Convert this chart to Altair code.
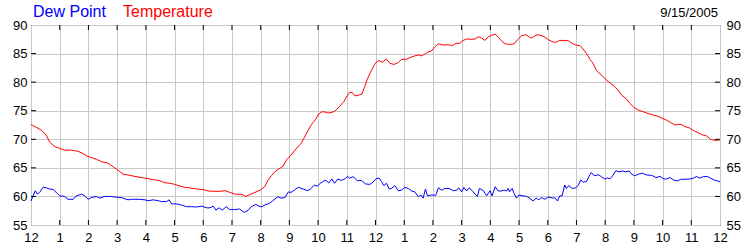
import altair as alt
import pandas as pd

# ---- data ----
temp_hours = [0, 0.36, 0.53, 0.65, 0.83, 1.0, 1.17, 1.41, 1.64, 1.81, 1.93, 2.1, 2.28, 2.45, 2.69, 2.86,
              3.03, 3.21, 3.38, 3.62, 3.85, 4.08, 4.31, 4.49, 4.66, 4.84, 5.01, 5.19, 5.36, 5.53, 5.77,
              6.0, 6.17, 6.41, 6.58, 6.76, 6.93, 7.1, 7.34, 7.49, 7.63, 7.8, 7.98, 8.14, 8.26, 8.37,
              8.49, 8.6, 8.78, 8.9, 9.06, 9.23, 9.41, 9.52, 9.64, 9.76, 9.9, 10.02, 10.13, 10.23, 10.34,
              10.48, 10.59, 10.74, 10.9, 11.01, 11.1, 11.19, 11.28, 11.4, 11.53, 11.62, 11.73, 11.85,
              11.97, 12.09, 12.24, 12.38, 12.5, 12.64, 12.79, 12.91, 13.08, 13.2, 13.37, 13.49, 13.6,
              13.72, 13.84, 13.95, 14.07, 14.19, 14.36, 14.53, 14.69, 14.8, 14.94, 15.03, 15.17, 15.35,
              15.47, 15.58, 15.7, 15.81, 15.93, 16.05, 16.17, 16.29, 16.41, 16.52, 16.67, 16.83, 16.94,
              17.08, 17.23, 17.34, 17.43, 17.55, 17.66, 17.8, 17.92, 18.03, 18.19, 18.3, 18.42, 18.57,
              18.71, 18.85, 18.97, 19.12, 19.23, 19.35, 19.47, 19.58, 19.7, 19.81, 19.93, 20.05, 20.19,
              20.34, 20.45, 20.57, 20.74, 20.86, 21.0, 21.15, 21.33, 21.5, 21.67, 21.85, 22.02, 22.16,
              22.31, 22.43, 22.55, 22.66, 22.78, 22.93, 23.07, 23.24, 23.4, 23.53, 23.67, 23.83, 24.0]
temp_values = [72.6, 71.6, 70.75, 69.5, 68.7, 68.4, 68.1, 68.1, 67.9, 67.5, 67.1, 66.8, 66.5, 66.1, 65.8, 65.2,
               64.6, 63.9, 63.75, 63.5, 63.3, 63.1, 62.9, 62.75, 62.4, 62.3, 62.1, 61.8, 61.6, 61.5, 61.3,
               61.2, 60.95, 60.9, 60.9, 61.0, 60.7, 60.4, 60.35, 60.0, 60.35, 60.7, 61.1, 61.7, 62.9, 63.6,
               64.3, 64.7, 65.3, 66.4, 67.25, 68.3, 69.3, 70.3, 71.45, 72.5, 73.4, 74.4, 74.8, 74.8, 74.6,
               74.7, 74.95, 75.7, 76.6, 77.6, 78.2, 78.2, 77.6, 77.7, 77.9, 79.2, 80.7, 82.0,
               83.1, 83.8, 83.5, 84.05, 83.3, 83.1, 83.4, 84.0, 84.0, 84.3, 84.6, 84.75, 84.6,
               84.9, 85.3, 85.45, 86.2, 86.7, 86.5, 86.55, 86.4, 86.8, 86.8, 87.25, 87.55, 87.5,
               87.55, 87.95, 87.7, 87.3, 87.95, 88.2, 88.4, 87.8, 87.1, 86.7, 86.6, 86.7, 87.4,
               88.1, 88.3, 87.95, 87.7, 88.1, 88.3, 88.1, 87.8, 87.4, 87.0, 87.0, 87.3, 87.3,
               87.25, 86.8, 86.5, 86.4, 85.8, 85.0, 84.0, 83.3, 82.0, 81.5, 80.95, 80.3, 79.8,
               79.2, 78.6, 77.75, 77.05, 76.3, 75.6, 75.1, 74.8, 74.5, 74.25, 74.0, 73.6, 73.3,
               72.85, 72.5, 72.6, 72.6, 72.2, 72.0, 71.55, 71.15, 70.75, 70.6, 70.0, 69.8, 69.9]

dew_hours = [0, 0.07, 0.15, 0.22, 0.30, 0.42, 0.53, 0.65, 0.77, 0.88, 1.0, 1.17, 1.29, 1.47, 1.58, 1.76, 1.87,
             1.99, 2.1, 2.28, 2.4, 2.57, 2.74, 2.92, 3.15, 3.38, 3.5, 3.79, 3.97, 4.08, 4.26, 4.43, 4.55,
             4.72, 4.81, 4.9, 5.07, 5.24, 5.42, 5.59, 5.77, 5.94, 6.12, 6.23, 6.35, 6.44, 6.56, 6.66, 6.8,
             6.92, 7.09, 7.27, 7.42, 7.56, 7.67, 7.83, 7.98, 8.05, 8.14, 8.31, 8.42, 8.6, 8.71, 8.84, 8.97,
             9.06, 9.17, 9.31, 9.48, 9.64, 9.76, 9.87, 9.97, 10.08, 10.2, 10.28, 10.37, 10.48, 10.57, 10.69,
             10.81, 10.94, 11.02, 11.1, 11.22, 11.37, 11.51, 11.65, 11.8, 11.91, 12.02, 12.13, 12.21, 12.29,
             12.38, 12.48, 12.56, 12.67, 12.79, 12.91, 13.02, 13.14, 13.26, 13.37, 13.49, 13.58, 13.66,
             13.74, 13.81, 13.95, 14.1, 14.19, 14.3, 14.42, 14.57, 14.71, 14.83, 14.9, 15.0, 15.08, 15.17,
             15.26, 15.37, 15.47, 15.55, 15.62, 15.76, 15.87, 15.99, 16.06, 16.17, 16.27, 16.38, 16.48,
             16.56, 16.62, 16.67, 16.76, 16.83, 16.91, 16.99, 17.14, 17.26, 17.37, 17.49, 17.6, 17.69,
             17.78, 17.9, 18.01, 18.19, 18.24, 18.34, 18.42, 18.5, 18.59, 18.65, 18.73, 18.85, 18.97,
             19.06, 19.15, 19.23, 19.35, 19.43, 19.52, 19.62, 19.76, 19.87, 19.99, 20.08, 20.16, 20.26,
             20.37, 20.49, 20.6, 20.72, 20.84, 20.92, 21.03, 21.15, 21.3, 21.44, 21.62, 21.77, 21.91,
             22.05, 22.14, 22.26, 22.37, 22.51, 22.63, 22.78, 22.95, 23.07, 23.19, 23.28, 23.42, 23.56,
             23.67, 23.83, 24.0]
dew_values = [59.2, 60.1, 61.0, 60.4, 60.7, 61.6, 61.5, 61.3, 61.2, 60.7, 60.1, 60.0, 59.5, 59.5, 60.1, 60.4, 60.1,
              59.5, 59.8, 60.0, 59.7, 60.0, 60.0, 59.9, 59.8, 59.4, 59.5, 59.5, 59.4, 59.25, 59.4, 59.25, 59.1,
              59.1, 59.4, 58.7, 58.7, 58.5, 58.2, 58.2, 58.15, 58.3, 58.0, 58.0, 58.3, 57.6, 58.0, 57.6, 58.2,
              57.7, 57.7, 57.8, 57.2, 57.55, 58.2, 58.6, 58.2, 58.2, 58.5, 58.8, 59.25, 59.95, 59.7, 59.8, 60.8,
              60.7, 61.1, 61.6, 61.3, 61.0, 61.4, 62.0, 61.8, 62.3, 62.7, 62.8, 62.35, 63.05, 62.3, 63.05,
              62.8, 63.1, 63.5, 63.2, 63.45, 62.75, 62.8, 62.2, 62.1, 62.5, 63.1, 63.2, 62.6, 61.9,
              62.3, 61.3, 61.4, 61.9, 61.0, 61.1, 61.6, 61.4, 60.95, 60.8, 59.95, 60.25, 59.7,
              61.3, 60.1, 60.25, 60.2, 61.5, 61.1, 61.4, 61.4, 61.0, 61.1, 61.5, 60.8, 61.6, 60.95,
              61.5, 61.0, 60.4, 60.0, 61.4, 61.0, 60.1, 61.0, 60.1, 61.7, 60.95, 60.95, 61.1,
              60.95, 61.4, 60.8, 61.4, 60.5, 59.7, 60.25, 60.1, 60.0, 59.7, 59.2, 59.7, 59.4,
              59.8, 59.5, 59.9, 59.7, 59.8, 59.2, 60.1, 60.1, 62.0, 61.4, 61.9, 61.4, 61.5,
              61.9, 62.9, 62.5, 62.6, 63.45, 64.2, 63.6, 63.8, 63.45, 63.05, 63.25, 63.05, 63.6,
              64.5, 64.3, 64.45, 64.3, 64.45, 63.9, 63.6, 63.9, 64.05, 63.75, 63.7, 63.3, 63.5,
              63.05, 63.05, 63.3, 62.9, 62.7, 63.0, 63.0, 63.05, 63.2, 63.5, 63.2, 63.45, 63.5,
              63.2, 62.8, 62.6]

series_names = ["Dew Point", "Temperature"]
series_colors = ["#0000FF", "#FF0000"]
hour_ticks = list(range(0, 25))
inner_hour_ticks = list(range(1, 24))
value_ticks = [55, 60, 65, 70, 75, 80, 85, 90]
inner_value_ticks = [60, 65, 70, 75, 80, 85]
date_label = "9/15/2005"

df = pd.concat([
    pd.DataFrame({"hour": dew_hours, "value": dew_values, "series": series_names[0]}),
    pd.DataFrame({"hour": temp_hours, "value": temp_values, "series": series_names[1]}),
], ignore_index=True)
df["order"] = df.index

ticks_x = pd.DataFrame({"hour": inner_hour_ticks})
ticks_y = pd.DataFrame({"value": inner_value_ticks})
labels_df = pd.DataFrame({"label": series_names, "color": series_colors})

W, H = 689, 200
FONT = "Liberation Sans"
GRID = "#C8C8C8"

xscale = alt.Scale(domain=[0, 24], nice=False, zero=False)
yscale = alt.Scale(domain=[55, 90], nice=False, zero=False)

xaxis = alt.Axis(values=hour_ticks, title=None, grid=True, gridColor=GRID, gridWidth=1,
                 ticks=False, domain=False, labelFont=FONT, labelFontSize=13, labelColor="black",
                 labelPadding=6, labelOverlap=False, labelFlush=False, labelBound=False,
                 labelExpr="datum.value % 12 == 0 ? '12' : '' + (datum.value % 12)")
yaxis_left = alt.Axis(values=value_ticks, title=None, grid=True, gridColor=GRID, gridWidth=1,
                      ticks=False, domain=False, labelFont=FONT, labelFontSize=13, labelColor="black",
                      labelPadding=4, labelOverlap=False, labelFlush=False, labelBound=False)
yaxis_right = alt.Axis(values=value_ticks, title=None, grid=False, orient="right",
                       ticks=False, domain=False, labelFont=FONT, labelFontSize=13, labelColor="black",
                       labelPadding=6, labelOverlap=False, labelFlush=False, labelBound=False)

X = alt.X("hour:Q", scale=xscale, axis=xaxis)

lines = alt.Chart(df).mark_line(strokeWidth=1).encode(
    x=X,
    y=alt.Y("value:Q", scale=yscale, axis=yaxis_left),
    color=alt.Color("series:N", scale=alt.Scale(domain=series_names, range=series_colors), legend=None),
    order="order:Q",
)

right_axis = alt.Chart(df).mark_line(opacity=0).encode(
    x=X,
    y=alt.Y("value:Q", scale=yscale, axis=yaxis_right),
    detail="series:N",
)

tick_bottom = alt.Chart(ticks_x).mark_rule(color="black", strokeWidth=1).encode(
    x=X, y=alt.value(H), y2=alt.value(H - 5))
tick_top = alt.Chart(ticks_x).mark_rule(color="black", strokeWidth=1).encode(
    x=X, y=alt.value(0), y2=alt.value(5))

tick_left = alt.Chart(ticks_y).mark_rule(color="black", strokeWidth=1).encode(
    y=alt.Y("value:Q", scale=yscale, axis=None), x=alt.value(0), x2=alt.value(5))
tick_right = alt.Chart(ticks_y).mark_rule(color="black", strokeWidth=1).encode(
    y=alt.Y("value:Q", scale=yscale, axis=None), x=alt.value(W), x2=alt.value(W - 5))

dew_text = alt.Chart(labels_df.iloc[[0]]).mark_text(
    font=FONT, fontSize=16, align="left", baseline="alphabetic", color=series_colors[0]
).encode(text="label:N", x=alt.value(2), y=alt.value(-8))
temp_text = alt.Chart(labels_df.iloc[[1]]).mark_text(
    font=FONT, fontSize=16, align="left", baseline="alphabetic", color=series_colors[1]
).encode(text="label:N", x=alt.value(92), y=alt.value(-8))
date_text = alt.Chart(pd.DataFrame({"label": [date_label]})).mark_text(
    font=FONT, fontSize=13, align="right", baseline="alphabetic", color="black"
).encode(text="label:N", x=alt.value(W - 2), y=alt.value(-8))

chart = alt.layer(
    lines, right_axis, tick_bottom, tick_top, tick_left, tick_right, dew_text, temp_text, date_text
).resolve_scale(y="independent").properties(
    width=W, height=H,
    autosize=alt.AutoSizeParams(type="none"),
    padding={"left": 31, "top": 25, "right": 30, "bottom": 25},
    background="white",
).configure_view(stroke="black", strokeWidth=1)

chart.save("out.html", embed_options={"renderer": "svg", "actions": False})
